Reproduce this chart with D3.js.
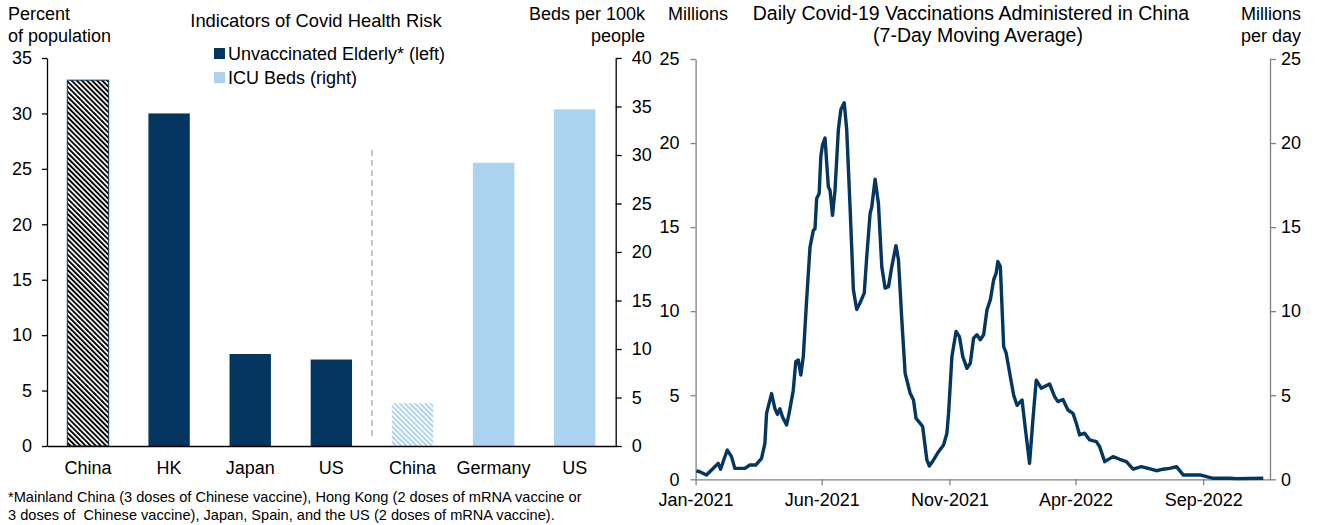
<!DOCTYPE html>
<head>
    <meta charset="utf-8" />
    <script src="https://d3js.org/d3.v7.min.js"></script>
    <style>
        body { margin: 0; background: #fff; }
        svg { display: block; font-family: "Liberation Sans", Arial, sans-serif; }
        .axis text { font-size: 18px; fill: #000; font-family: "Liberation Sans", Arial, sans-serif; }
    </style>
</head>
<body>
<div id="chart"></div>
<script>
    // bar panel data
    const barLabels = ["China", "HK", "Japan", "US", "China", "Germany", "US"];
    const elderlyValues = [33, 30, 8.3, 7.8];        // percent of population (left)
    const icuValues = [4.4, 29.2, 34.7];             // beds per 100k (right)
    const leftTicks = [0, 5, 10, 15, 20, 25, 30, 35];
    const rightTicks = [0, 5, 10, 15, 20, 25, 30, 35, 40];
    const footnote = [
        "*Mainland China (3 doses of Chinese vaccine), Hong Kong (2 doses of mRNA vaccine or",
        "3 doses of  Chinese vaccine), Japan, Spain, and the US (2 doses of mRNA vaccine)."
    ];

    // line panel data (7-day moving average, millions per day)
    const vaxDates = [
        "2021-01-02", "2021-01-06", "2021-01-14", "2021-01-24", "2021-01-28", "2021-01-31",
        "2021-02-04", "2021-02-08", "2021-02-13", "2021-02-17", "2021-03-01", "2021-03-07",
        "2021-03-14", "2021-03-21", "2021-03-25", "2021-03-27", "2021-04-02", "2021-04-06",
        "2021-04-09", "2021-04-12", "2021-04-15", "2021-04-20", "2021-04-23", "2021-04-28",
        "2021-05-01", "2021-05-04", "2021-05-07", "2021-05-10", "2021-05-14", "2021-05-18",
        "2021-05-22", "2021-05-24", "2021-05-26", "2021-05-29", "2021-05-31", "2021-06-02",
        "2021-06-05", "2021-06-09", "2021-06-11", "2021-06-14", "2021-06-17", "2021-06-21",
        "2021-06-24", "2021-06-28", "2021-07-01", "2021-07-05", "2021-07-09", "2021-07-13",
        "2021-07-17", "2021-07-22", "2021-07-25", "2021-07-29", "2021-07-31", "2021-08-04",
        "2021-08-08", "2021-08-12", "2021-08-16", "2021-08-20", "2021-08-24", "2021-08-29",
        "2021-09-01", "2021-09-05", "2021-09-09", "2021-09-15", "2021-09-19", "2021-09-22",
        "2021-09-27", "2021-09-30", "2021-10-05", "2021-10-08", "2021-10-13", "2021-10-19",
        "2021-10-25", "2021-10-29", "2021-10-31", "2021-11-04", "2021-11-09", "2021-11-13",
        "2021-11-17", "2021-11-22", "2021-11-26", "2021-11-30", "2021-12-04", "2021-12-08",
        "2021-12-12", "2021-12-16", "2021-12-20", "2021-12-24", "2021-12-27", "2021-12-29",
        "2022-01-01", "2022-01-05", "2022-01-08", "2022-01-13", "2022-01-17", "2022-01-21",
        "2022-01-27", "2022-01-31", "2022-02-05", "2022-02-09", "2022-02-13", "2022-02-19",
        "2022-03-01", "2022-03-07", "2022-03-11", "2022-03-17", "2022-03-23", "2022-03-29",
        "2022-04-02", "2022-04-06", "2022-04-12", "2022-04-18", "2022-04-26", "2022-04-30",
        "2022-05-06", "2022-05-16", "2022-05-24", "2022-06-01", "2022-06-09", "2022-06-19",
        "2022-06-27", "2022-07-07", "2022-07-15", "2022-07-23", "2022-07-31", "2022-08-08",
        "2022-08-28", "2022-09-13", "2022-10-03", "2022-10-11", "2022-11-12"
    ];
    const vaxValues = [
        0.5, 0.45, 0.26, 0.75, 0.95, 0.6,
        1.19, 1.74, 1.35, 0.65, 0.65, 0.85,
        0.85, 1.25, 2.14, 3.92, 5.1, 4.2,
        3.86, 4.2, 3.72, 3.23, 3.92, 5.3,
        7.0, 7.1, 6.2, 7.3, 10.67, 13.8,
        14.8, 14.9, 16.7, 17.0, 19.2, 19.9,
        20.3, 17.4, 17.2, 15.7, 17.2, 20.8,
        22.0, 22.4, 20.8, 16.2, 11.27, 10.1,
        10.5, 11.07, 13.25, 15.8, 16.2, 17.85,
        16.4, 12.65, 11.37, 11.46, 12.65, 13.9,
        13.05, 9.48, 6.3, 5.12, 4.72, 3.63,
        3.33, 3.13, 1.15, 0.79, 1.15, 1.64,
        2.04, 2.74, 3.92, 7.3, 8.79, 8.49,
        7.3, 6.6, 6.9, 8.4, 8.6, 8.3,
        8.6, 10.08, 10.67, 11.86, 12.26, 12.95,
        12.65, 7.9, 7.5, 6.1, 5.0, 4.4,
        4.72, 3.0, 0.95, 3.53, 5.9, 5.42,
        5.67, 4.92, 4.62, 4.75, 4.12, 3.92,
        3.33, 2.64, 2.74, 2.34, 2.24, 1.94,
        1.05, 1.35, 1.19, 1.05, 0.6, 0.75,
        0.65, 0.51, 0.6, 0.65, 0.75, 0.26,
        0.26, 0.06, 0.06, 0.04, 0.06
    ];
    const lineTicks = [0, 5, 10, 15, 20, 25];
    const dateTicks = ["2021-01-01", "2021-06-01", "2021-11-01", "2022-04-01", "2022-09-01"];

    const navy = "#04365f";
    const lightBlue = "#abd2ee";

    const svg = d3.select("#chart")
        .append("svg")
        .attr("width", 1317)
        .attr("height", 525);

    // hatch patterns for the China bars
    const defs = svg.append("defs");
    function hatch(id, stripe) {
        const p = defs.append("pattern")
            .attr("id", id)
            .attr("patternUnits", "userSpaceOnUse")
            .attr("width", 3.6)
            .attr("height", 3.6)
            .attr("patternTransform", "rotate(-45)");
        p.append("rect").attr("width", 3.6).attr("height", 3.6).attr("fill", "#fff");
        p.append("rect").attr("width", 1.9).attr("height", 3.6).attr("fill", stripe);
    }
    hatch("hatchDark", "#000");
    hatch("hatchLight", lightBlue);

    // ---------- left panel: bars ----------
    const x = d3.scaleBand()
        .domain(d3.range(barLabels.length))
        .range([47, 615.7])
        .paddingInner(0.49)
        .paddingOuter(0.25);
    const yL = d3.scaleLinear().domain([0, 35]).range([446, 58]);
    const yR = d3.scaleLinear().domain([0, 40]).range([446, 58]);

    const left = svg.append("g");

    left.selectAll(".elderly")
        .data(elderlyValues)
        .enter()
        .append("rect")
        .attr("x", (d, i) => x(i))
        .attr("y", d => yL(d))
        .attr("width", x.bandwidth())
        .attr("height", d => yL(0) - yL(d))
        .attr("fill", (d, i) => i === 0 ? "url(#hatchDark)" : navy)
        .attr("stroke", (d, i) => i === 0 ? navy : "none")
        .attr("stroke-width", 1);

    left.selectAll(".icu")
        .data(icuValues)
        .enter()
        .append("rect")
        .attr("x", (d, i) => x(i + 4))
        .attr("y", d => yR(d))
        .attr("width", x.bandwidth())
        .attr("height", d => yR(0) - yR(d))
        .attr("fill", (d, i) => i === 0 ? "url(#hatchLight)" : lightBlue);

    // dashed divider between the two groups
    const divX = (x(3) + x.bandwidth() + x(4)) / 2;
    left.append("line")
        .attr("x1", divX).attr("x2", divX)
        .attr("y1", yL(26.7)).attr("y2", yL(0.7))
        .attr("stroke", "#a6a6a6")
        .attr("stroke-width", 1.3)
        .attr("stroke-dasharray", "6,4");

    left.append("g")
        .attr("class", "axis")
        .attr("transform", "translate(47,0)")
        .call(d3.axisLeft(yL).tickValues(leftTicks).tickSize(5).tickSizeOuter(0).tickPadding(10))
        .call(g => g.selectAll("path,line").attr("stroke", "#000").attr("stroke-width", 1.3));

    left.append("g")
        .attr("class", "axis")
        .attr("transform", "translate(615.7,0)")
        .call(d3.axisRight(yR).tickValues(rightTicks).tickSize(6).tickSizeOuter(0).tickPadding(10))
        .call(g => g.selectAll("path,line").attr("stroke", "#000").attr("stroke-width", 1.3));

    left.append("g")
        .attr("class", "axis")
        .attr("transform", "translate(0,446)")
        .call(d3.axisBottom(x).tickSize(0).tickPadding(15).tickFormat(i => barLabels[i]))
        .call(g => g.select("path").attr("stroke", "#000").attr("stroke-width", 1.5));

    // titles of the left panel
    const t18 = (g, txt, tx, ty, anchor, size) => g.append("text")
        .attr("x", tx).attr("y", ty)
        .attr("text-anchor", anchor || "start")
        .attr("font-size", size || 18)
        .attr("fill", "#000")
        .text(txt);

    t18(left, "Percent", 8, 20);
    t18(left, "of population", 8, 42);
    t18(left, "Beds per 100k", 645, 20, "end");
    t18(left, "people", 645, 42, "end");
    t18(left, "Indicators of Covid Health Risk", 316, 27, "middle", 18.4);

    // legend
    const legend = [["Unvaccinated Elderly* (left)", navy], ["ICU Beds (right)", lightBlue]];
    legend.forEach(function(d, i) {
        left.append("rect")
            .attr("x", 214).attr("y", 48 + i * 24)
            .attr("width", 11).attr("height", 11)
            .attr("fill", d[1]);
        t18(left, d[0], 228, 60 + i * 24);
    });

    footnote.forEach(function(line, i) {
        left.append("text")
            .attr("x", 8).attr("y", 502 + i * 18)
            .attr("font-size", 14.6)
            .attr("fill", "#000")
            .style("white-space", "pre")
            .text(line);
    });

    // ---------- right panel: line ----------
    const parse = d3.timeParse("%Y-%m-%d");
    const series = vaxDates.map((d, i) => ({ date: parse(d), value: vaxValues[i] }));

    const xt = d3.scaleTime()
        .domain([parse("2021-01-01"), parse("2022-11-20")])
        .range([695.6, 1270]);
    const yt = d3.scaleLinear().domain([0, 25]).range([479.3, 59]);

    const right = svg.append("g");
    const grey = "#808080";

    right.append("g")
        .attr("class", "axis")
        .attr("transform", "translate(695.6,0)")
        .call(d3.axisLeft(yt).tickValues(lineTicks).tickSize(5).tickSizeOuter(0).tickPadding(11))
        .call(g => g.selectAll("path,line").attr("stroke", grey).attr("stroke-width", 1.3));

    right.append("g")
        .attr("class", "axis")
        .attr("transform", "translate(1270,0)")
        .call(d3.axisRight(yt).tickValues(lineTicks).tickSize(6).tickSizeOuter(0).tickPadding(5))
        .call(g => g.selectAll("path,line").attr("stroke", grey).attr("stroke-width", 1.3));

    right.append("g")
        .attr("class", "axis")
        .attr("transform", "translate(0,479.3)")
        .call(d3.axisBottom(xt)
            .tickValues(dateTicks.map(parse))
            .tickSize(6).tickSizeOuter(0).tickPadding(8)
            .tickFormat(d3.timeFormat("%b-%Y")))
        .call(g => g.selectAll("path,line").attr("stroke", grey).attr("stroke-width", 1.3));

    right.append("path")
        .datum(series)
        .attr("fill", "none")
        .attr("stroke", navy)
        .attr("stroke-width", 3.4)
        .attr("stroke-linejoin", "round")
        .attr("d", d3.line().x(d => xt(d.date)).y(d => yt(d.value)));

    t18(right, "Millions", 668, 20);
    t18(right, "Daily Covid-19 Vaccinations Administered in China", 971, 20, "middle", 19.5);
    t18(right, "(7-Day Moving Average)", 978, 42, "middle", 19.5);
    t18(right, "Millions", 1241, 20);
    t18(right, "per day", 1241, 42);
</script>
</body>
